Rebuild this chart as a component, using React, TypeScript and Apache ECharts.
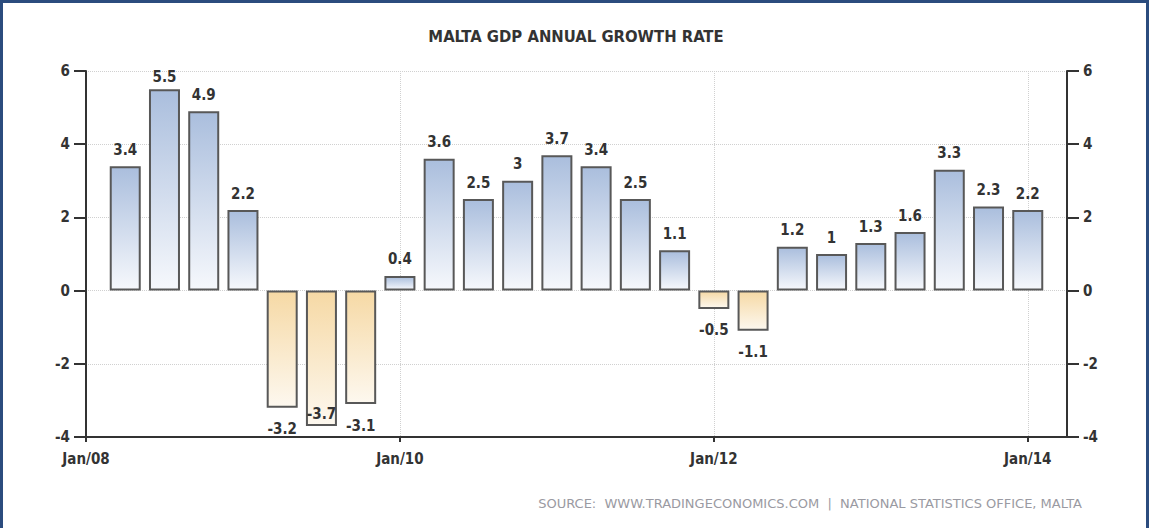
import React, { useEffect, useRef } from "react";
import * as echarts from "echarts";

const quarters = [
  "2008Q1", "2008Q2", "2008Q3", "2008Q4",
  "2009Q1", "2009Q2", "2009Q3", "2009Q4",
  "2010Q1", "2010Q2", "2010Q3", "2010Q4",
  "2011Q1", "2011Q2", "2011Q3", "2011Q4",
  "2012Q1", "2012Q2", "2012Q3", "2012Q4",
  "2013Q1", "2013Q2", "2013Q3", "2013Q4",
];
const growth = [
  3.4, 5.5, 4.9, 2.2,
  -3.2, -3.7, -3.1, 0.4,
  3.6, 2.5, 3, 3.7,
  3.4, 2.5, 1.1, -0.5,
  -1.1, 1.2, 1, 1.3,
  1.6, 3.3, 2.3, 2.2,
];
const xTickYears = [2008, 2010, 2012, 2014];
const yTicks = [-4, -2, 0, 2, 4, 6];

const TITLE = "MALTA GDP ANNUAL GROWTH RATE";
const SOURCE = "SOURCE:  WWW.TRADINGECONOMICS.COM  |  NATIONAL STATISTICS OFFICE, MALTA";

// end of quarter as a fractional year
const quarterEnd = (q: string) => Number(q.slice(0, 4)) + Number(q.slice(5)) / 4;

const FONT = "'DejaVu Sans Condensed', 'DejaVu Sans', sans-serif";

export default function App() {
  const ref = useRef<HTMLDivElement>(null);
  useEffect(() => {
    if (!ref.current) return;
    const chart = echarts.init(ref.current, null, { renderer: "svg" });
    const posGrad = new echarts.graphic.LinearGradient(0, 0, 0, 1, [
      { offset: 0, color: "#aabedd" },
      { offset: 1, color: "#f6f8fc" },
    ]);
    const negGrad = new echarts.graphic.LinearGradient(0, 0, 0, 1, [
      { offset: 0, color: "#f6d9a5" },
      { offset: 1, color: "#fdf8ef" },
    ]);
    const data = quarters.map((q, i) => {
      const v = growth[i];
      const item: any = {
        value: [quarterEnd(q), v],
        itemStyle: { color: v >= 0 ? posGrad : negGrad },
        label: v >= 0 ? { position: "top", distance: 9 } : { position: "bottom", distance: 14 },
      };
      if (v >= 5.5) item.label = { position: "top", distance: 5 };
      if (v <= -3.5) item.label = { position: "insideBottom", distance: 5 };
      return item;
    });
    const axisLabelStyle = {
      color: "#333",
      fontFamily: FONT,
      fontWeight: "bold" as const,
      fontSize: 15,
    };
    chart.setOption({
      animation: false,
      backgroundColor: "#fff",
      title: {
        text: TITLE,
        left: "center",
        top: 23,
        textStyle: { fontFamily: FONT, fontWeight: "bold", fontSize: 16.5, color: "#333" },
      },
      grid: { left: 86, right: 85, top: 71, bottom: 91 },
      xAxis: {
        type: "value",
        min: 2008,
        max: 2014.25,
        interval: 2,
        axisLine: { onZero: false, lineStyle: { color: "#333", width: 2 } },
        axisTick: { show: true, length: 5, customValues: xTickYears, lineStyle: { color: "#333", width: 2 } },
        axisLabel: {
          ...axisLabelStyle,
          margin: 14,
          customValues: xTickYears,
          formatter: (v: number) =>
            xTickYears.includes(v) ? "Jan/" + String(v).slice(2) : "",
        },
        splitLine: { show: true, lineStyle: { color: "#d0d0d0", type: "dotted", width: 1 } },
      },
      yAxis: [
        {
          type: "value",
          min: yTicks[0],
          max: yTicks[yTicks.length - 1],
          interval: 2,
          axisLine: { show: true, lineStyle: { color: "#333", width: 2 } },
          axisTick: { show: true, length: 12, lineStyle: { color: "#333", width: 2 } },
          axisLabel: { ...axisLabelStyle, margin: 16 },
          splitLine: { show: true, lineStyle: { color: "#d0d0d0", type: "dotted", width: 1 } },
        },
        {
          type: "value",
          position: "right",
          min: yTicks[0],
          max: yTicks[yTicks.length - 1],
          interval: 2,
          axisLine: { show: true, lineStyle: { color: "#333", width: 2 } },
          axisTick: { show: true, length: 12, lineStyle: { color: "#333", width: 2 } },
          axisLabel: { ...axisLabelStyle, margin: 16 },
          splitLine: { show: false },
        },
      ],
      series: [
        {
          type: "bar",
          barWidth: 31,
          data,
          itemStyle: { borderColor: "#585858", borderWidth: 2 },
          label: {
            show: true,
            color: "#333",
            fontFamily: FONT,
            fontWeight: "bold",
            fontSize: 15,
            formatter: (p: any) => String(p.value[1]),
          },
        },
      ],
      graphic: [
        {
          type: "text",
          right: 70,
          top: 497,
          style: {
            text: SOURCE,
            fill: "#9a9aa2",
            font: "13px 'DejaVu Sans', sans-serif",
          },
        },
        {
          type: "rect",
          shape: { x: 1.5, y: 1.5, width: 1146, height: 545 },
          style: { fill: "none", stroke: "#2b4c7e", lineWidth: 3 },
          z: 100,
        },
      ],
    });
    return () => chart.dispose();
  }, []);
  return (
    <div
      ref={ref}
      style={{ position: "fixed", left: 0, top: 0, width: 1152, height: 528 }}
    />
  );
}
